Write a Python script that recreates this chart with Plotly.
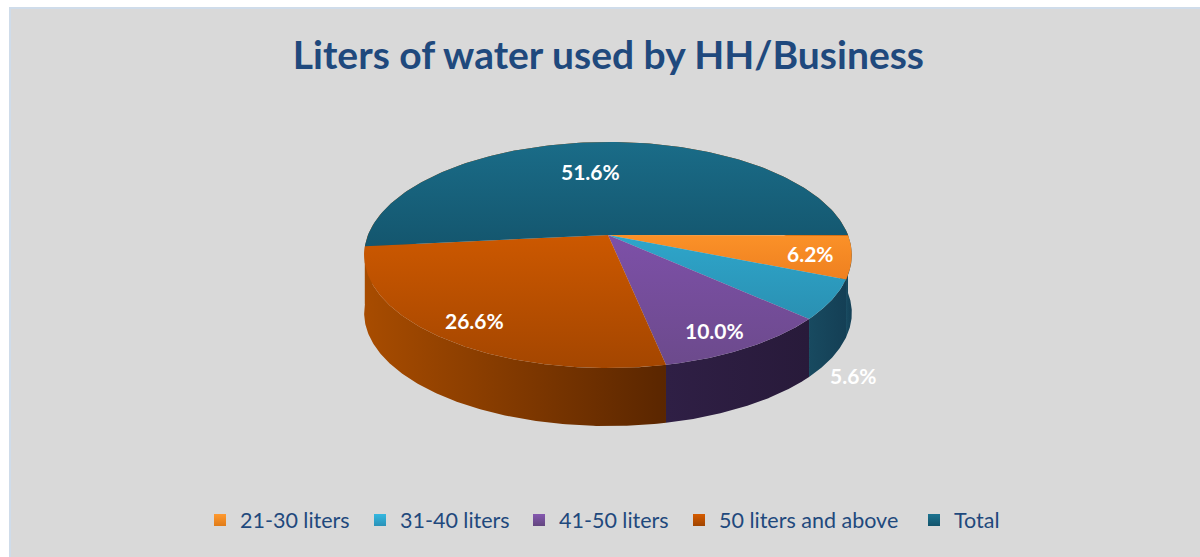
import numpy as np
import plotly.graph_objects as go

categories = ["21-30 liters", "31-40 liters", "41-50 liters", "50 liters and above", "Total"]
values = [6.2, 5.6, 10.0, 26.6, 51.6]
labels = ["6.2%", "5.6%", "10.0%", "26.6%", "51.6%"]

# style
top_light = ["#fb9128", "#2ea6cb", "#7d50a8", "#cc5800", "#1a6c88"]
top_dark = ["#ee8020", "#2a90b2", "#6c4a8c", "#a44600", "#14566e"]
wall_light = ["#174a60", "#184a60", "#2f1f45", "#a84c00", "#a84c00"]
wall_dark = ["#143f55", "#143f55", "#281a3a", "#5a2600", "#a84c00"]
legend_top = ["#ff9a30", "#35b8e0", "#8558b0", "#d65c00", "#1c7390"]
legend_bot = ["#e07c18", "#2a92b8", "#63467f", "#a04400", "#14546c"]

CX, CY = 608, 235            # pie apex on the page, px
A, B, K = 240, 109.5, 0.177  # perspective disc
DEPTH = 58
LABEL_R = [0.85, 1.15, 0.87, 0.85, 0.65]
LABEL_DX = [-4, -16, -12, 4, -10]
LABEL_DY = [0, 65, 0, 0, 0]
LEGEND_LEFT = [200, 360, 519, 679, 914]  # px


def project(theta, r=1.0):
    u, v = r * np.cos(theta), r * np.sin(theta)
    w = 1 + K * v
    return CX + A * u / w, CY - B * v / w


fracs = np.array(values) / sum(values)
edges = -2 * np.pi * np.concatenate([[0], np.cumsum(fracs)])

fig = go.Figure()

# side walls, back to front
for i in [4, 0, 1, 2, 3]:
    t = np.linspace(edges[i], edges[i + 1], 160)
    x, y = project(t)
    px = np.concatenate([x, x[::-1]])
    py = np.concatenate([y, y[::-1] + DEPTH])
    fig.add_trace(go.Scatter(
        x=px, y=py, mode="lines", fill="toself", line=dict(width=0),
        fillgradient=dict(type="horizontal", start=float(px.min()), stop=float(px.max()),
                          colorscale=[[0, wall_light[i]], [1, wall_dark[i]]]),
        showlegend=False, hoverinfo="skip"))

# top surfaces
for i in range(5):
    t = np.linspace(edges[i], edges[i + 1], 160)
    x, y = project(t)
    px = np.concatenate([[CX], x, [CX]])
    py = np.concatenate([[CY], y, [CY]])
    fig.add_trace(go.Scatter(
        x=px, y=py, mode="lines", fill="toself", line=dict(width=0),
        fillgradient=dict(type="vertical", start=float(py.min()), stop=float(py.max()),
                          colorscale=[[0, top_light[i]], [1, top_dark[i]]]),
        showlegend=False, hoverinfo="skip"))

# legend entries, one positioned legend each
legend_layout = {}
for i, name in enumerate(categories):
    key = "legend" if i == 0 else f"legend{i + 1}"
    fig.add_trace(go.Scatter(
        x=[None], y=[None], mode="markers", name=name, legend=key, showlegend=True,
        marker=dict(symbol="square", size=13, color=legend_top[i],
                    gradient=dict(type="vertical", color=legend_bot[i]), line=dict(width=0))))
    legend_layout[key] = dict(
        orientation="h", x=LEGEND_LEFT[i] / 1200, xanchor="left", y=1 - 520 / 557, yanchor="middle",
        bgcolor="rgba(0,0,0,0)", font=dict(family="Lato", size=21.5, color="#1f497d"),
        itemwidth=30, itemsizing="constant")

# data labels
for i, lab in enumerate(labels):
    mid = (edges[i] + edges[i + 1]) / 2
    lx, ly = project(mid, LABEL_R[i])
    fig.add_annotation(x=lx + LABEL_DX[i], y=ly + LABEL_DY[i], text=f"<b>{lab}</b>", showarrow=False,
                       font=dict(family="Lato", size=21, color="white"))

fig.update_layout(
    width=1200, height=557, margin=dict(l=0, r=0, t=0, b=0),
    paper_bgcolor="white", plot_bgcolor="rgba(0,0,0,0)",
    xaxis=dict(range=[0, 1200], visible=False, fixedrange=True),
    yaxis=dict(range=[557, 0], visible=False, fixedrange=True),
    title=dict(text="<b>Liters of water used by HH/Business</b>", x=0.507, xanchor="center",
               y=1 - 55 / 557, yanchor="middle", font=dict(family="Lato", size=39, color="#1f497d")),
    shapes=[dict(type="rect", xref="x", yref="y", x0=10, x1=1201, y0=8, y1=558, layer="below",
                 fillcolor="#d9d9d9", line=dict(color="#cfdcea", width=2))],
    **legend_layout,
)

fig.write_html("out.html", config={"displayModeBar": False},
               post_script="document.body.style.margin='0';document.documentElement.style.overflow='hidden';")
